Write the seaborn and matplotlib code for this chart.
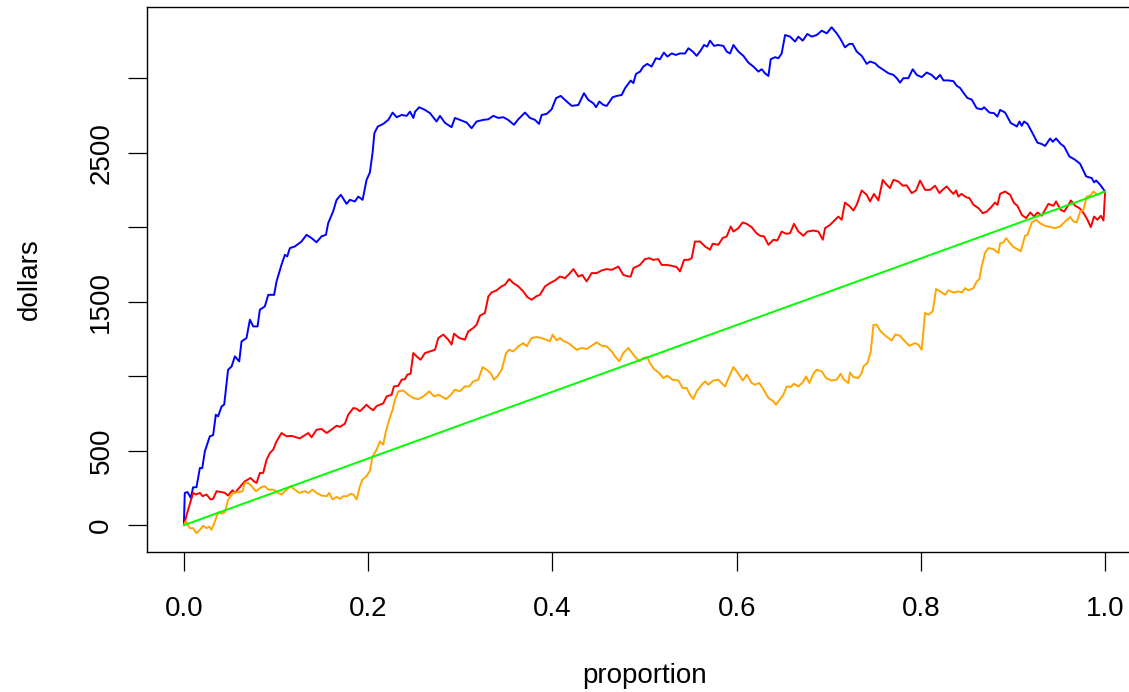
import numpy as np
import pandas as pd
import matplotlib
matplotlib.use('Agg')
import matplotlib.pyplot as plt
import seaborn as sns

# values (proportion, dollars)
blue_p = [0.0, 0.001, 0.004, 0.0076, 0.010, 0.0137, 0.0174, 0.020, 0.0228, 0.0282, 0.0318, 0.0347, 0.0372,
          0.041, 0.0438, 0.048, 0.0518, 0.0554, 0.0601, 0.0626, 0.068, 0.0717, 0.0753, 0.080, 0.0825, 0.0879,
          0.0916, 0.098, 0.1006, 0.106, 0.1097, 0.1122, 0.1151, 0.1205, 0.1277, 0.1332, 0.1386, 0.1440, 0.1495,
          0.1542, 0.1567, 0.162, 0.1658, 0.1704, 0.1766, 0.1802, 0.1857, 0.1893, 0.1940, 0.1983, 0.2019, 0.2048,
          0.2068, 0.2105, 0.2164, 0.2219, 0.2266, 0.231, 0.2364, 0.2418, 0.2455, 0.2491, 0.2510, 0.2555, 0.2617,
          0.2672, 0.2743, 0.278, 0.2834, 0.2906, 0.2942, 0.2997, 0.3069, 0.3124, 0.3177, 0.325, 0.3305, 0.3359,
          0.3413, 0.3467, 0.352, 0.3583, 0.363, 0.3703, 0.3757, 0.3811, 0.3855, 0.3884, 0.3938, 0.3992, 0.4040,
          0.409, 0.4137, 0.421, 0.4282, 0.4343, 0.439, 0.4444, 0.4474, 0.451, 0.4554, 0.459, 0.4654, 0.47,
          0.4752, 0.4789, 0.485, 0.4879, 0.4908, 0.4952, 0.4987, 0.503, 0.5077, 0.5124, 0.5168, 0.521, 0.5248,
          0.5295, 0.534, 0.5385, 0.544, 0.5476, 0.5523, 0.5566, 0.5610, 0.5646, 0.568, 0.5711, 0.5755, 0.580,
          0.5856, 0.5892, 0.5929, 0.5965, 0.6019, 0.6073, 0.6127, 0.6182, 0.6236, 0.6272, 0.6308, 0.6345, 0.637,
          0.6417, 0.6453, 0.6489, 0.6526, 0.658, 0.6634, 0.667, 0.6717, 0.6768, 0.6815, 0.6869, 0.6924, 0.6978,
          0.7031, 0.7086, 0.7129, 0.7176, 0.7223, 0.7259, 0.7303, 0.7358, 0.7412, 0.7448, 0.7503, 0.7539, 0.7593,
          0.7647, 0.7702, 0.7738, 0.7774, 0.781, 0.7864, 0.7911, 0.7955, 0.8009, 0.8063, 0.8117, 0.8164, 0.8208,
          0.8245, 0.8299, 0.8353, 0.8389, 0.8426, 0.8469, 0.8505, 0.8552, 0.8606, 0.866, 0.8686, 0.8744, 0.8794,
          0.883, 0.886, 0.8914, 0.8976, 0.9012, 0.9041, 0.9070, 0.9095, 0.912, 0.9157, 0.9203, 0.9265, 0.9312,
          0.9348, 0.9403, 0.9431, 0.9467, 0.9518, 0.9555, 0.9612, 0.9674, 0.9728, 0.9794, 0.9855, 0.988, 0.9902,
          0.9946, 1.0]
blue_v = [0, 217, 222, 183, 254, 255, 384, 384, 496, 597, 605, 742, 731,
          798, 810, 1044, 1066, 1134, 1100, 1234, 1257, 1380, 1335, 1335, 1447, 1469,
          1547, 1547, 1637, 1749, 1816, 1805, 1861, 1872, 1905, 1950, 1928, 1900, 1940,
          1950, 2029, 2107, 2185, 2219, 2158, 2185, 2174, 2207, 2185, 2319, 2368, 2499,
          2633, 2677, 2695, 2722, 2771, 2740, 2755, 2749, 2777, 2735, 2777, 2807, 2789,
          2767, 2711, 2749, 2702, 2673, 2735, 2722, 2704, 2666, 2711, 2722, 2726, 2749,
          2735, 2740, 2722, 2689, 2726, 2771, 2735, 2722, 2695, 2755, 2762, 2793, 2868,
          2883, 2856, 2816, 2822, 2901, 2856, 2834, 2807, 2845, 2822, 2816, 2874, 2883,
          2889, 2935, 2986, 2969, 3031, 3046, 3080, 3098, 3080, 3136, 3129, 3174, 3147,
          3168, 3158, 3168, 3168, 3203, 3181, 3152, 3188, 3225, 3214, 3254, 3219, 3225,
          3219, 3181, 3168, 3225, 3181, 3152, 3107, 3080, 3046, 3062, 3035, 3017, 3129,
          3143, 3136, 3168, 3292, 3281, 3248, 3281, 3254, 3299, 3281, 3292, 3321, 3303,
          3344, 3303, 3263, 3209, 3232, 3232, 3181, 3152, 3098, 3114, 3102, 3080, 3058,
          3035, 3024, 3002, 2972, 3002, 3002, 3062, 3024, 3009, 3040, 3024, 2995, 3024,
          2987, 2987, 2982, 2951, 2936, 2898, 2869, 2858, 2800, 2793, 2807, 2771, 2767,
          2744, 2789, 2771, 2700, 2689, 2677, 2711, 2682, 2711, 2695, 2643, 2569, 2560,
          2547, 2597, 2575, 2597, 2560, 2543, 2476, 2454, 2427, 2342, 2331, 2302, 2315,
          2286, 2240]

red_p = [0.0, 0.0047, 0.0101, 0.0130, 0.0174, 0.0203, 0.0246, 0.029, 0.0318, 0.0355, 0.041, 0.0445, 0.048,
         0.0528, 0.0554, 0.0601, 0.0662, 0.0724, 0.0760, 0.0789, 0.0825, 0.0861, 0.0898, 0.0934, 0.097, 0.1006,
         0.1060, 0.1115, 0.1169, 0.1223, 0.1259, 0.1314, 0.1350, 0.1386, 0.1440, 0.1495, 0.155, 0.160, 0.1658,
         0.1694, 0.1748, 0.1784, 0.184, 0.1875, 0.1911, 0.1947, 0.1983, 0.2020, 0.2056, 0.2092, 0.2164, 0.2201,
         0.2255, 0.2280, 0.2327, 0.2364, 0.24, 0.2425, 0.2461, 0.249, 0.2526, 0.257, 0.2617, 0.2672, 0.2726,
         0.2762, 0.2816, 0.287, 0.2906, 0.2932, 0.299, 0.3051, 0.3087, 0.3141, 0.3177, 0.3214, 0.3268, 0.3305,
         0.334, 0.3395, 0.3449, 0.3485, 0.3532, 0.3576, 0.363, 0.3684, 0.3728, 0.3775, 0.3822, 0.3866, 0.392,
         0.3974, 0.4029, 0.4083, 0.4137, 0.4191, 0.4228, 0.4282, 0.4325, 0.4372, 0.4426, 0.4481, 0.4535, 0.459,
         0.4644, 0.4716, 0.4770, 0.4825, 0.4850, 0.4879, 0.4951, 0.5005, 0.5052, 0.5096, 0.515, 0.5186, 0.524,
         0.5295, 0.535, 0.5385, 0.543, 0.5476, 0.5512, 0.5548, 0.5602, 0.5657, 0.5711, 0.5740, 0.5801, 0.5848,
         0.5892, 0.5936, 0.5965, 0.6019, 0.6065, 0.6109, 0.6163, 0.6217, 0.6254, 0.6298, 0.6345, 0.6399, 0.6442,
         0.6489, 0.6536, 0.658, 0.6623, 0.667, 0.6724, 0.6768, 0.6833, 0.6887, 0.6935, 0.696, 0.7014, 0.7068,
         0.7104, 0.714, 0.7176, 0.723, 0.7267, 0.7303, 0.7358, 0.7412, 0.7448, 0.7491, 0.7539, 0.7586, 0.7629,
         0.7665, 0.7702, 0.7756, 0.7803, 0.7846, 0.7901, 0.7948, 0.7991, 0.8045, 0.81, 0.8154, 0.8201, 0.8244,
         0.828, 0.8317, 0.8353, 0.8382, 0.8407, 0.8440, 0.8491, 0.8527, 0.8570, 0.8625, 0.8672, 0.8715, 0.8769,
         0.8805, 0.8831, 0.886, 0.8914, 0.8968, 0.9012, 0.9048, 0.9095, 0.9142, 0.9186, 0.9229, 0.9265, 0.9312,
         0.9348, 0.9384, 0.9439, 0.9467, 0.9518, 0.9555, 0.9602, 0.9627, 0.9674, 0.9721, 0.9772, 0.9808, 0.9844,
         0.9880, 0.9916, 0.9953, 0.9982, 1.0]
red_v = [0, 105, 217, 206, 217, 195, 206, 173, 177, 228, 222, 217, 199,
         235, 217, 251, 295, 317, 295, 284, 351, 351, 440, 485, 508, 563,
         619, 597, 600, 590, 583, 605, 619, 590, 641, 646, 619, 641, 668,
         660, 682, 742, 787, 782, 765, 787, 809, 787, 772, 800, 818, 865,
         876, 932, 936, 977, 981, 1011, 1017, 1156, 1134, 1111, 1156, 1167, 1178,
         1257, 1280, 1246, 1213, 1286, 1257, 1246, 1301, 1324, 1346, 1407, 1425, 1536,
         1563, 1577, 1604, 1615, 1653, 1626, 1604, 1570, 1532, 1514, 1536, 1548, 1604,
         1626, 1644, 1670, 1659, 1693, 1720, 1670, 1681, 1637, 1693, 1693, 1711, 1720,
         1715, 1737, 1681, 1670, 1670, 1726, 1748, 1787, 1793, 1782, 1787, 1748, 1748,
         1742, 1733, 1704, 1782, 1782, 1793, 1905, 1905, 1872, 1850, 1890, 1883, 1928,
         1939, 2006, 1972, 1995, 2033, 2024, 2001, 1960, 1944, 1939, 1883, 1917, 1912,
         1972, 1957, 1961, 2024, 1972, 1944, 1972, 1979, 1972, 1917, 1995, 2017, 2051,
         2073, 2051, 2167, 2140, 2113, 2151, 2248, 2219, 2174, 2225, 2181, 2319, 2286,
         2264, 2319, 2308, 2280, 2282, 2230, 2248, 2315, 2252, 2252, 2280, 2230, 2257,
         2275, 2248, 2225, 2248, 2207, 2225, 2203, 2196, 2152, 2129, 2095, 2106, 2140,
         2167, 2151, 2225, 2241, 2219, 2163, 2145, 2084, 2062, 2100, 2073, 2100, 2078,
         2118, 2158, 2145, 2174, 2118, 2106, 2151, 2181, 2145, 2129, 2091, 2051, 2002,
         2073, 2051, 2078, 2046, 2240]

orange_p = [0.0, 0.0022, 0.0065, 0.0101, 0.0137, 0.0174, 0.021, 0.0246, 0.0275, 0.0300, 0.0337, 0.0373, 0.041,
            0.0445, 0.0481, 0.0536, 0.059, 0.0637, 0.0662, 0.070, 0.0735, 0.0782, 0.0843, 0.0879, 0.0916, 0.097,
            0.1024, 0.1060, 0.1115, 0.1158, 0.1205, 0.1252, 0.1314, 0.135, 0.1397, 0.1440, 0.1495, 0.155, 0.1578,
            0.1614, 0.1658, 0.1694, 0.1730, 0.1773, 0.1810, 0.1840, 0.1875, 0.1911, 0.194, 0.1983, 0.2019, 0.2048,
            0.2092, 0.2128, 0.2164, 0.2193, 0.2229, 0.2266, 0.2291, 0.2327, 0.2382, 0.2436, 0.249, 0.2545, 0.26,
            0.2664, 0.2715, 0.2762, 0.2798, 0.2845, 0.2888, 0.2942, 0.2997, 0.3051, 0.3098, 0.3142, 0.3196, 0.3243,
            0.3286, 0.333, 0.3366, 0.3402, 0.345, 0.3497, 0.3532, 0.3576, 0.363, 0.3684, 0.3720, 0.3775, 0.3829,
            0.3884, 0.393, 0.3974, 0.4003, 0.4046, 0.4083, 0.4126, 0.4174, 0.421, 0.4264, 0.4318, 0.4372, 0.4426,
            0.4481, 0.4535, 0.459, 0.4644, 0.468, 0.4726, 0.477, 0.4825, 0.4879, 0.4944, 0.4987, 0.503, 0.5059,
            0.5103, 0.516, 0.5204, 0.5248, 0.5305, 0.5367, 0.5414, 0.5458, 0.5494, 0.553, 0.5566, 0.5621, 0.5657,
            0.5693, 0.5747, 0.5801, 0.5874, 0.592, 0.5965, 0.6019, 0.6067, 0.611, 0.6163, 0.6200, 0.6245, 0.6290,
            0.6345, 0.6399, 0.6428, 0.6471, 0.6507, 0.6544, 0.6587, 0.6623, 0.667, 0.6717, 0.6753, 0.679, 0.6833,
            0.687, 0.6924, 0.6971, 0.7031, 0.7086, 0.7129, 0.7165, 0.7212, 0.723, 0.7267, 0.7321, 0.7358, 0.7376,
            0.742, 0.7456, 0.7485, 0.7521, 0.7564, 0.763, 0.7684, 0.7720, 0.7774, 0.7817, 0.7875, 0.7937, 0.7973,
            0.8009, 0.8045, 0.8082, 0.8128, 0.8165, 0.8208, 0.8263, 0.8299, 0.8353, 0.8407, 0.8444, 0.8480, 0.8516,
            0.8570, 0.8606, 0.8635, 0.866, 0.8697, 0.8733, 0.8787, 0.8841, 0.886, 0.8896, 0.8925, 0.8968, 0.9004,
            0.9048, 0.9084, 0.9131, 0.9157, 0.9203, 0.9251, 0.9294, 0.9348, 0.9403, 0.9457, 0.9511, 0.9566, 0.962,
            0.9656, 0.9692, 0.9728, 0.9765, 0.9801, 0.9837, 0.9873, 0.9917, 0.9964, 1.0]
orange_v = [0, 25, -20, -20, -54, -31, -4, -20, -9, -31, 25, 87, 78,
            87, 172, 217, 222, 228, 284, 284, 262, 228, 257, 262, 239, 239,
            217, 206, 239, 262, 239, 217, 228, 217, 239, 217, 199, 195, 217,
            173, 190, 177, 195, 195, 211, 206, 173, 262, 307, 329, 364, 462,
            507, 563, 541, 630, 709, 776, 843, 899, 905, 876, 854, 847, 865,
            899, 865, 876, 865, 847, 869, 910, 899, 932, 932, 966, 977, 1062,
            1044, 1022, 977, 999, 1044, 1156, 1178, 1167, 1201, 1223, 1201, 1257, 1264,
            1257, 1246, 1235, 1280, 1241, 1257, 1235, 1223, 1205, 1178, 1190, 1183, 1205,
            1228, 1205, 1201, 1167, 1134, 1100, 1156, 1190, 1145, 1100, 1123, 1129, 1089,
            1049, 1022, 988, 1004, 977, 972, 921, 921, 876, 847, 899, 943, 966,
            943, 972, 977, 932, 999, 1062, 1017, 972, 1011, 955, 943, 955, 914,
            854, 832, 809, 847, 876, 932, 928, 950, 932, 959, 999, 955, 1017,
            1044, 1033, 988, 972, 977, 1017, 977, 955, 1026, 995, 988, 1022, 1066,
            1089, 1167, 1346, 1346, 1301, 1264, 1241, 1280, 1273, 1241, 1205, 1223, 1212,
            1178, 1425, 1414, 1436, 1586, 1570, 1548, 1577, 1563, 1570, 1563, 1592, 1577,
            1592, 1637, 1653, 1738, 1831, 1861, 1854, 1828, 1894, 1899, 1928, 1894, 1868,
            1854, 1839, 1944, 1950, 2033, 2051, 2028, 2011, 2002, 1995, 2006, 2040, 2069,
            2040, 2033, 2106, 2118, 2207, 2212, 2241, 2219, 2236, 2240]

green_p = [0.0, 1.0]
green_v = [0, 2240]

series_names = ['blue', 'red', 'orange', 'green']
series_colors = {'blue': '#0000FF', 'red': '#FF0000', 'orange': '#FFA500', 'green': '#00FF00'}

x_ticks = [0.0, 0.2, 0.4, 0.6, 0.8, 1.0]
x_tick_labels = ['0.0', '0.2', '0.4', '0.6', '0.8', '1.0']
y_ticks = [0, 500, 1000, 1500, 2000, 2500, 3000]
y_tick_labels = ['0', '500', '', '1500', '', '2500', '']

# long-form table for seaborn
df = pd.concat([
    pd.DataFrame({'proportion': blue_p, 'dollars': blue_v, 'series': 'blue'}),
    pd.DataFrame({'proportion': red_p, 'dollars': red_v, 'series': 'red'}),
    pd.DataFrame({'proportion': orange_p, 'dollars': orange_v, 'series': 'orange'}),
    pd.DataFrame({'proportion': green_p, 'dollars': green_v, 'series': 'green'}),
], ignore_index=True)

sns.set_style('ticks')
plt.rcParams['font.family'] = ['Liberation Sans', 'DejaVu Sans']
plt.rcParams.update({'axes.edgecolor': 'black', 'xtick.color': 'black', 'ytick.color': 'black',
                     'text.color': 'black', 'axes.labelcolor': 'black'})

fig = plt.figure(figsize=(11.29, 6.92), dpi=100)
ax = fig.add_axes([147 / 1129, 140 / 692, 995 / 1129, 545 / 692])

sns.lineplot(data=df, x='proportion', y='dollars', hue='series', hue_order=series_names,
             palette=series_colors, estimator=None, sort=False, legend=False,
             linewidth=1.4, ax=ax)

ax.set_xlim(-0.04, 1.04)
ax.set_ylim(-180, 3480)
ax.set_xticks(x_ticks)
ax.set_xticklabels(x_tick_labels)
ax.set_yticks(y_ticks)
ax.set_yticklabels(y_tick_labels, rotation=90, va='center')

for s in ax.spines.values():
    s.set_linewidth(1.0)
    s.set_color('black')

ax.tick_params(axis='both', direction='out', length=13.5, width=0.9, labelsize=20)
ax.tick_params(axis='x', pad=18)
ax.tick_params(axis='y', pad=10)

ax.set_xlabel('proportion', fontsize=20)
ax.set_ylabel('dollars', fontsize=20)
ax.xaxis.set_label_coords(0.5, -0.203)
ax.yaxis.set_label_coords(-0.1045, 0.5)

fig.savefig('out.png', dpi=100)
